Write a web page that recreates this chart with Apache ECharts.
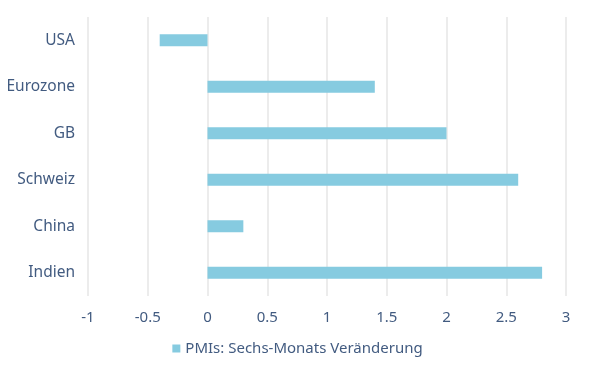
<!DOCTYPE html>
<html><head><meta charset="utf-8">
<script src="https://cdn.jsdelivr.net/npm/echarts@6/dist/echarts.min.js"></script>
<style>html,body{margin:0;padding:0;background:#fff}#c{width:595px;height:365px}</style>
</head><body><div id="c"></div>
<script>
const categories = ['USA', 'Eurozone', 'GB', 'Schweiz', 'China', 'Indien'];
const values = [-0.4, 1.4, 2.0, 2.6, 0.3, 2.8];
const seriesName = 'PMIs: Sechs-Monats Veränderung';
const xMin = -1, xMax = 3, xStep = 0.5;

const chart = echarts.init(document.getElementById('c'), null, {renderer: 'canvas'});
const textColor = '#425b80';
const font = 'Noto Sans';
chart.setOption({
  animation: false,
  grid: {left: 88, right: 29, top: 17, bottom: 69, containLabel: false},
  legend: {
    bottom: 4, left: 'center', itemWidth: 8, itemHeight: 8, itemGap: 5,
    icon: 'rect',
    textStyle: {color: textColor, fontSize: 15, fontFamily: font},
    data: [seriesName]
  },
  xAxis: {
    type: 'value', min: xMin, max: xMax, interval: xStep,
    axisLine: {show: false}, axisTick: {show: false},
    splitLine: {show: true, lineStyle: {color: '#e6e6e6', width: 1.5}},
    axisLabel: {color: textColor, fontSize: 15, fontFamily: font, margin: 14,
      formatter: v => String(v)}
  },
  yAxis: {
    type: 'category', data: categories, inverse: true,
    axisLine: {show: false}, axisTick: {show: false},
    axisLabel: {color: textColor, fontSize: 15.5, fontFamily: font, margin: 13}
  },
  series: [{
    name: seriesName, type: 'bar', data: values, barWidth: 12,
    itemStyle: {color: '#86cbe0'}
  }]
});
</script></body></html>
